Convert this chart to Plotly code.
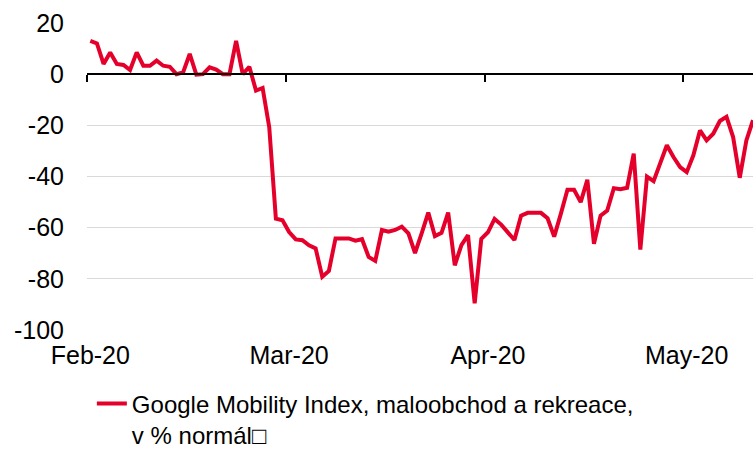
import pandas as pd
import plotly.graph_objects as go

# Google Mobility Index (retail & recreation), daily from 15 Feb 2020
start_date = "2020-02-15"
mobility_values = [
    13, 12, 4, 8.5, 4, 3.6, 1.6, 8.5, 3.3, 3.3,
    5.3, 3.3, 2.9, 0, 0.7, 7.9, -0.2, 0, 2.7, 1.8,
    0, 0, 13, 0, 2.9, -6.4, -5.4, -20.7, -56.5, -57.1,
    -61.7, -64.6, -64.9, -66.9, -68.1, -79.2, -76.9, -64.2, -64.2, -64.2,
    -65.1, -64.5, -71.4, -73, -60.9, -61.6, -60.9, -59.6, -62.2, -69.9,
    -62.2, -54.1, -63.3, -62, -54.1, -74.7, -66.8, -62.9, -89.6, -64.4,
    -61.8, -56.6, -58.8, -61.8, -64.8, -55.3, -54.2, -54.2, -54.2, -56.3,
    -63.5, -54.6, -45.2, -45.2, -50, -41.3, -66.3, -55.3, -53.3, -44.6,
    -45, -44.4, -31.1, -68.6, -40, -41.8, -34.3, -27.8, -32.4, -36.3,
    -38.3, -31.7, -22, -25.9, -23.3, -18.3, -16.7, -24.6, -40.5, -25.9,
    -18,
]
dates = pd.date_range(start_date, periods=len(mobility_values), freq="D")

tick_dates = ["2020-02-15", "2020-03-16", "2020-04-15", "2020-05-15"]
tick_labels = ["Feb-20", "Mar-20", "Apr-20", "May-20"]
y_ticks = [-100, -80, -60, -40, -20, 0, 20]
y_tick_labels = ["-100", "-80", "-60", "-40", "-20", "0", "20"]
series_name = "Google Mobility Index, maloobchod a rekreace,<br>v % normál\u25a1"

RED = "#E4002B"
FONT = "Liberation Sans, Arial, sans-serif"
FS = 25
LEGEND_FS = 24

# category boundaries (half a day before each labelled day)
boundary_ticks = [(pd.Timestamp(d) - pd.Timedelta(hours=12)) for d in tick_dates]
x_range = [dates[0] - pd.Timedelta(hours=12), dates[-1]]

fig = go.Figure()
fig.add_trace(go.Scatter(
    x=dates, y=mobility_values, mode="lines", name=series_name,
    line=dict(color=RED, width=4), showlegend=True,
))
# helper trace so the zero-line axis (with tick marks) is drawn
fig.add_trace(go.Scatter(
    x=dates, y=mobility_values, mode="lines", xaxis="x2",
    line=dict(color="rgba(0,0,0,0)", width=0), showlegend=False, hoverinfo="skip",
))

y_min, y_max = -100, 20
fig.update_layout(
    width=753, height=453,
    margin=dict(l=86.5, r=0, t=22.5, b=122.5, autoexpand=False),
    paper_bgcolor="white", plot_bgcolor="white",
    font=dict(family=FONT, size=FS, color="black"),
    xaxis=dict(
        type="date", range=x_range, tickmode="array",
        tickvals=tick_dates, ticktext=tick_labels,
        showgrid=False, zeroline=False, showline=False, ticks="",
        tickfont=dict(size=FS), ticklabelstandoff=8, automargin=False,
    ),
    xaxis2=dict(
        type="date", range=x_range, overlaying="x", anchor="free",
        position=(0 - y_min) / (y_max - y_min), side="bottom",
        tickmode="array", tickvals=boundary_ticks, showticklabels=False,
        ticks="outside", ticklen=7, tickwidth=1.5, tickcolor="black",
        showline=True, linecolor="black", linewidth=1.5,
        showgrid=False, zeroline=False, automargin=False,
    ),
    yaxis=dict(
        range=[y_min, y_max], tickmode="array", tickvals=y_ticks,
        ticktext=y_tick_labels,
        showgrid=True, gridcolor="#d9d9d9", gridwidth=1.3,
        zeroline=False, showline=False, ticks="",
        tickfont=dict(size=FS), ticklabelstandoff=22, automargin=False,
    ),
    legend=dict(
        xref="container", yref="container",
        x=0.122, y=0.158, xanchor="left", yanchor="top",
        font=dict(size=LEGEND_FS), valign="top", bgcolor="rgba(0,0,0,0)",
        tracegroupgap=0,
    ),
    showlegend=True,
)

fig.write_html(
    "out.html",
    config={"displayModeBar": False},
    post_script="document.body.style.margin='0';",
)
